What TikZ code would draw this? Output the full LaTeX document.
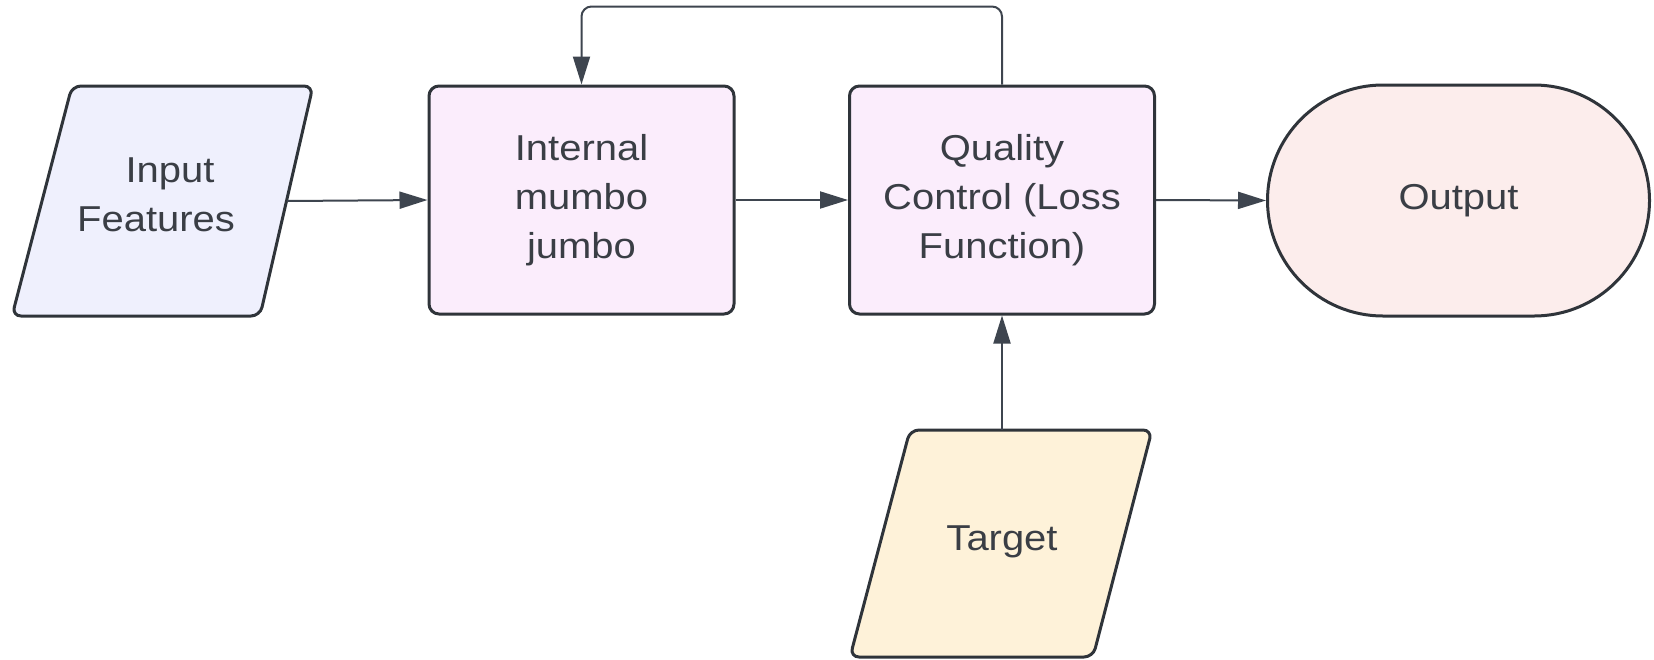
\documentclass[tikz,border=0pt]{standalone}
\usepackage{fontspec}
\setmainfont{Liberation Sans}[FakeStretch=1.11]
\usetikzlibrary{arrows.meta,shapes.misc}
\definecolor{edgecol}{HTML}{2F343A}
\definecolor{linecol}{HTML}{3E454F}
\definecolor{txtcol}{HTML}{3A3E45}
\definecolor{inputfill}{HTML}{EFF0FD}
\definecolor{boxfill}{HTML}{FBEDFC}
\definecolor{outfill}{HTML}{FCEDEC}
\definecolor{targetfill}{HTML}{FEF2D9}
\tikzset{
  txt/.style={text=txtcol, align=center, font=\fontsize{36}{49}\selectfont, inner sep=0pt},
  border/.style={draw=edgecol, line width=3pt},
  parashape/.style={border, rounded corners=9pt},
  procbox/.style={txt, border, rectangle, rounded corners=10pt, fill=boxfill,
    minimum width=305pt, minimum height=228pt},
  termbox/.style={txt, border, rounded rectangle, fill=outfill,
    minimum width=382pt, minimum height=231pt},
  conn/.style={draw=linecol, line width=2pt, -{Triangle[length=28pt,width=17pt]}},
}
\begin{document}
\begin{tikzpicture}[x=1pt,y=-1pt]
\useasboundingbox (0,0) rectangle (1654,659);
% Input Features (parallelogram)
\draw[parashape, fill=inputfill] (12,316) -- (72,86) -- (313,86) -- (260,316) -- cycle;
\node[txt] (in) at (156,195) {\hspace*{28pt}Input\\Features};
\coordinate (inR) at (287,201);
% Target (parallelogram)
\draw[parashape, fill=targetfill] (850,657) -- (910,430) -- (1152,430) -- (1093,657) -- cycle;
\node[txt] (tgt) at (1002,542) {Target};
\coordinate (tgtT) at (1002,430);
% boxes
\node[procbox] (mum) at (581.5,200) {Internal\\mumbo\\jumbo};
\node[procbox] (qc) at (1002,200) {Quality\\Control (Loss\\Function)};
\node[termbox] (out) at (1458.5,200.5) {Output};
% connectors
\draw[conn] (inR) -- (mum.west);
\draw[conn] (mum.east) -- (qc.west);
\draw[conn] (qc.east) -- (out.west);
\draw[conn] (tgtT) -- (qc.south);
\draw[conn, rounded corners=10pt] (qc.north) -- ++(0,-78) -| (mum.north);
\end{tikzpicture}
\end{document}
